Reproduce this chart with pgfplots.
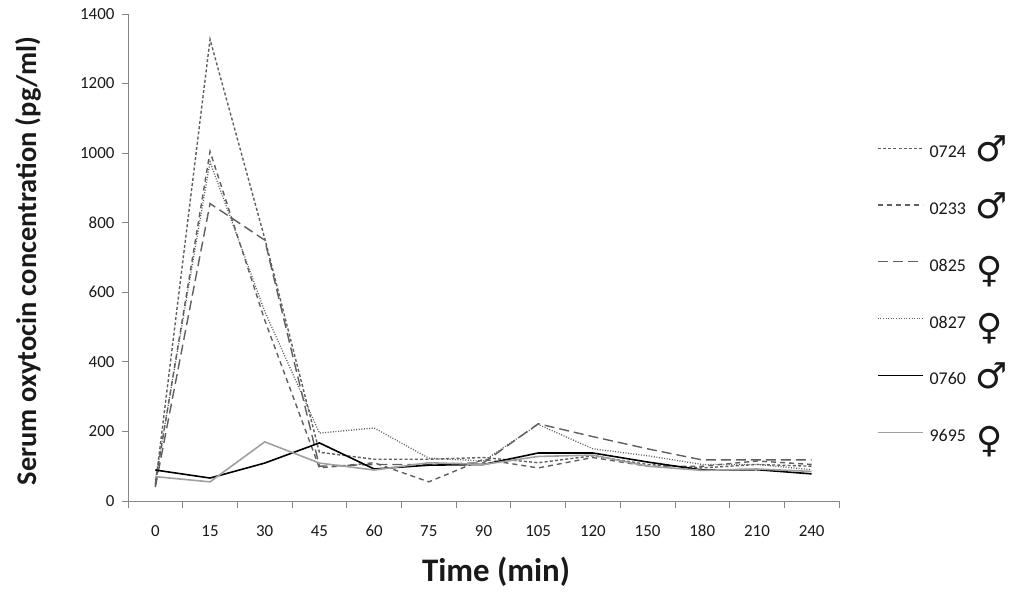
\documentclass[border=0pt]{standalone}
\usepackage{pgfplots}
\pgfplotsset{compat=1.18}
\usepackage{fontspec}
\setmainfont{Carlito}
\newfontfamily\symfont{DejaVu Sans}
\definecolor{axgray}{RGB}{134,134,134}
\definecolor{dgray}{RGB}{95,95,95}
\definecolor{lgray}{RGB}{160,160,160}
\definecolor{txt}{RGB}{25,25,25}
\newcommand{\lgm}[1]{\rule[-5bp]{0pt}{17bp}#1\hspace{10bp}\smash{\raisebox{-4bp}{\symfont\fontsize{36}{36}\selectfont ♂}}}
\newcommand{\lgf}[1]{\rule[-5bp]{0pt}{17bp}#1\hspace{11bp}\smash{\raisebox{-11bp}{\symfont\fontsize{36}{36}\selectfont ♀}}}
\begin{document}
\begin{tikzpicture}[x=1bp,y=1bp]
\useasboundingbox (0,0) rectangle (1013,593);
\begin{axis}[
  at={(128bp,92bp)}, anchor=south west,
  scale only axis, width=711bp, height=487bp,
  xmin=-0.5, xmax=12.5, ymin=0, ymax=1400,
  axis x line*=bottom, axis y line*=left,
  axis line style={axgray, line width=0.8bp},
  xtick={0,...,12},
  xticklabels={0,15,30,45,60,75,90,105,120,150,180,210,240},
  minor xtick={-0.5,0.5,...,12.5},
  ytick={0,200,...,1400},
  tick align=outside,
  major x tick style={draw=none},
  minor x tick style={axgray, line width=0.8bp},
  y tick style={axgray, line width=0.8bp},
  major tick length=6bp, minor tick length=7bp,
  /pgf/number format/assume math mode=true,
  /pgf/number format/1000 sep={},
  tick label style={font=\fontsize{17}{19}\selectfont, text=txt},
  xticklabel style={anchor=base, yshift=-30bp, text height=12bp, text depth=0bp},
  yticklabel style={xshift=-4bp},
  every axis y label/.style={at={(axis description cs:-0.1406,0.493)}, rotate=90, anchor=center,
     font=\bfseries\fontsize{28.5}{32}\selectfont, text=txt},
  every axis x label/.style={at={(axis description cs:0.5176,-0.166)}, anchor=base,
     font=\bfseries\fontsize{33}{36}\selectfont, text=txt},
  ylabel={Serum oxytocin concentration (pg/ml)},
  xlabel={Time (min)},
  legend cell align=left,
  legend image code/.code={\draw[#1] (0bp,4bp) -- (45bp,4bp);},
  legend style={draw=none, fill=none, at={(axis description cs:1.0534,0.730)}, anchor=north west,
     inner sep=0pt, outer sep=0pt, row sep=43.2bp,
     font=\fontsize{18}{20}\selectfont, text=txt,
     nodes={inner sep=0pt, outer sep=0pt},
     /tikz/every even column/.append style={column sep=0bp}},
]
% 0724
\addplot[dgray, line width=1.4bp, dash pattern=on 3bp off 2.2bp] coordinates {
(0,45) (1,1327) (2,755) (3,140) (4,120) (5,120) (6,125) (7,110) (8,130) (9,105) (10,95) (11,105) (12,100)};
\addlegendentry{\hspace{6bp}\lgm{0724}}
% 0233
\addplot[dgray, line width=1.4bp, dash pattern=on 5bp off 4bp] coordinates {
(0,50) (1,1005) (2,520) (3,95) (4,110) (5,55) (6,120) (7,95) (8,125) (9,100) (10,100) (11,115) (12,105)};
\addlegendentry{\hspace{6bp}\lgm{0233}}
% 0825
\addplot[dgray, line width=1.4bp, dash pattern=on 10bp off 5bp] coordinates {
(0,40) (1,855) (2,750) (3,100) (4,105) (5,105) (6,110) (7,222) (8,185) (9,150) (10,118) (11,118) (12,118)};
\addlegendentry{\hspace{6bp}\lgf{0825}}
% 0827
\addplot[dgray, line width=1.3bp, dash pattern=on 1bp off 1.6bp] coordinates {
(0,60) (1,975) (2,545) (3,195) (4,210) (5,123) (6,115) (7,220) (8,150) (9,130) (10,105) (11,105) (12,90)};
\addlegendentry{\hspace{6bp}\lgf{0827}}
% 0760
\addplot[black, line width=1.6bp] coordinates {
(0,89) (1,66) (2,109) (3,167) (4,92) (5,103) (6,105) (7,138) (8,138) (9,112) (10,89) (11,90) (12,78)};
\addlegendentry{\hspace{6bp}\lgm{0760}}
% 9695
\addplot[lgray, line width=1.6bp] coordinates {
(0,70) (1,55) (2,170) (3,109) (4,89) (5,110) (6,105) (7,128) (8,132) (9,100) (10,88) (11,92) (12,85)};
\addlegendentry{\hspace{6bp}\lgf{9695}}
\end{axis}
\end{tikzpicture}
\end{document}
